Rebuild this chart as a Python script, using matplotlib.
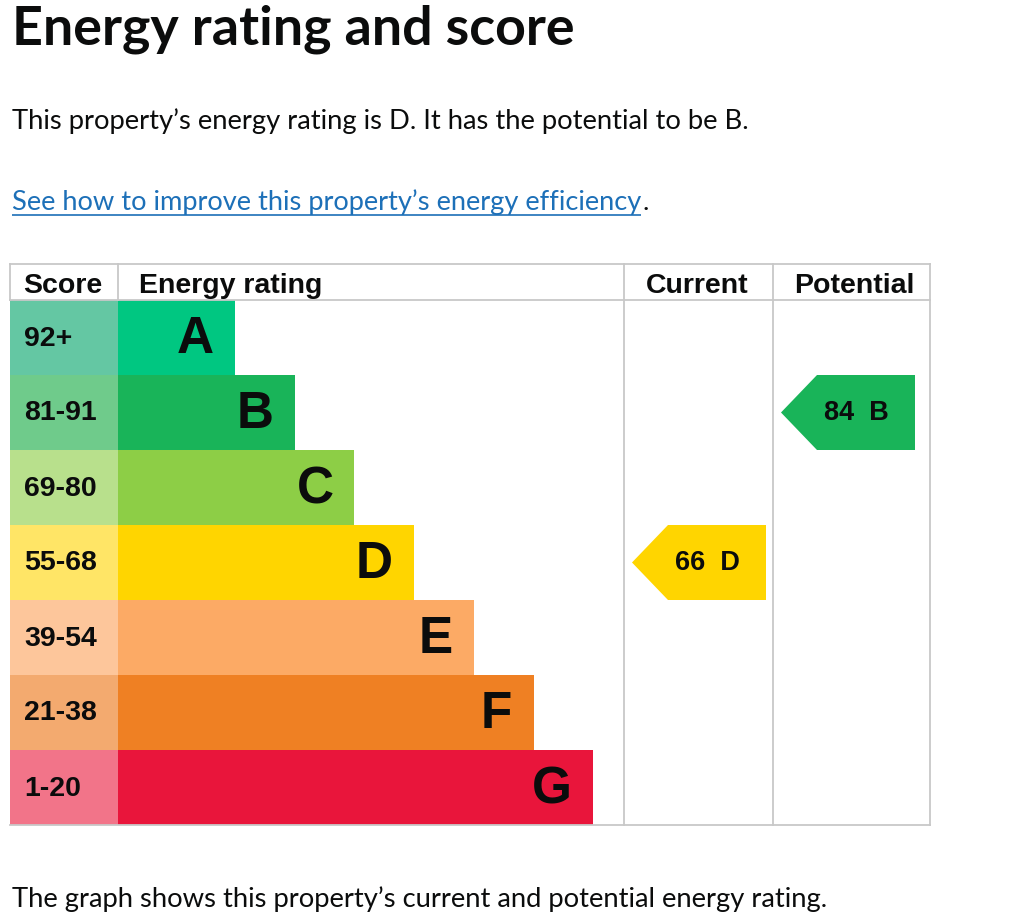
import matplotlib
matplotlib.use("Agg")
import matplotlib.pyplot as plt
from matplotlib.patches import Rectangle, Polygon

# ---- data ----
bands = ["A", "B", "C", "D", "E", "F", "G"]
score_ranges = ["92+", "81-91", "69-80", "55-68", "39-54", "21-38", "1-20"]
band_colors = ["#00c781", "#19b459", "#8dce46", "#ffd500", "#fcaa65", "#ef8023", "#e9153b"]
score_colors = ["#64c7a3", "#6fcb8b", "#b8e08c", "#ffe566", "#fdc69b", "#f3aa6f", "#f27489"]
headers = ["Score", "Energy rating", "Current", "Potential"]
current_score, current_band = 66, "D"
potential_score, potential_band = 84, "B"

title = "Energy rating and score"
summary = "This property\u2019s energy rating is D. It has the potential to be B."
link_text = "See how to improve this property\u2019s energy efficiency"
footer = "The graph shows this property\u2019s current and potential energy rating."

# ---- layout (pixels) ----
W, H = 1024, 924
fig = plt.figure(figsize=(W / 100, H / 100), dpi=100)
ax = fig.add_axes([0, 0, 1, 1])
ax.set_xlim(0, W)
ax.set_ylim(H, 0)
ax.axis("off")
fig.canvas.draw()
renderer = fig.canvas.get_renderer()


def fit_text(x, y, s, target_w, **kw):
    t = ax.text(x, y, s, fontsize=10, **kw)
    w = t.get_window_extent(renderer=renderer).width
    t.set_fontsize(10 * target_w / w)
    return t


body_font = "Lato"
tbl_font = "Liberation Sans"

fit_text(12, 45, title, 565, family=body_font, fontweight="bold", va="baseline", color="#0b0c0c")
fit_text(12, 129, summary, 737, family=body_font, va="baseline", color="#0b0c0c")
lt = fit_text(12, 210, link_text, 633, family=body_font, va="baseline", color="#1d70b8")
fig.canvas.draw()
ext = lt.get_window_extent(renderer=renderer)
ax.plot([12, 12 + ext.width], [215, 215], color="#1d70b8", lw=1.2, solid_capstyle="butt")
ax.text(12 + ext.width + 1, 210, ".", fontsize=lt.get_fontsize(), family=body_font,
        va="baseline", color="#0b0c0c")
fit_text(12, 907, footer, 820, family=body_font, va="baseline", color="#0b0c0c")

# table geometry
left, right = 10, 930
col_x = [10, 118, 624, 773, 930]
head_top, head_bot = 264, 300
row_h = 75
bar_base, bar_step = 117, 59.7
grid_c = "#c8c8c8"

for i, (b, sr) in enumerate(zip(bands, score_ranges)):
    y0 = head_bot + i * row_h
    ax.add_patch(Rectangle((col_x[0], y0), col_x[1] - col_x[0], row_h,
                           facecolor=score_colors[i], edgecolor="none"))
    bw = bar_base + i * bar_step
    ax.add_patch(Rectangle((col_x[1], y0), bw, row_h,
                           facecolor=band_colors[i], edgecolor="none"))
    ax.text(24, y0 + row_h / 2 + 1, sr, family=tbl_font, fontweight="bold",
            fontsize=20.5, va="center", ha="left", color="#0b0c0c")
    ax.text(col_x[1] + bw - 21, y0 + row_h / 2 + 2, b, family=tbl_font, fontweight="bold",
            fontsize=37, va="center", ha="right", color="#0b0c0c")

# grid lines
for yy in [head_top, head_bot, head_bot + 7 * row_h]:
    ax.plot([left, right], [yy, yy], color=grid_c, lw=1.3, zorder=3)
ax.plot([left, left], [head_top, head_bot], color=grid_c, lw=1.3, zorder=3)
ax.plot([col_x[1], col_x[1]], [head_top, head_bot], color=grid_c, lw=1.3, zorder=3)
for cx in col_x[2:]:
    ax.plot([cx, cx], [head_top, head_bot + 7 * row_h], color=grid_c, lw=1.3, zorder=3)

# headers
head_x = [23, 139, 646, 794]
for hx, h in zip(head_x, headers):
    ax.text(hx, head_top + 29, h, family=tbl_font, fontweight="bold", fontsize=20.5,
            va="baseline", ha="left", color="#0b0c0c")


def arrow(col, score, band):
    i = bands.index(band)
    y0 = head_bot + i * row_h
    x_tip = col_x[col] + 8
    x_body = x_tip + 36
    x_end = x_tip + 134
    pts = [(x_tip, y0 + row_h / 2), (x_body, y0), (x_end, y0), (x_end, y0 + row_h),
           (x_body, y0 + row_h)]
    ax.add_patch(Polygon(pts, closed=True, facecolor=band_colors[i], edgecolor="none", zorder=4))
    ax.text(x_tip + 43, y0 + row_h / 2 + 1, f"{score}  {band}", family=tbl_font,
            fontweight="bold", fontsize=19.5, va="center", ha="left", color="#0b0c0c", zorder=5)


arrow(2, current_score, current_band)
arrow(3, potential_score, potential_band)

fig.savefig("out.png", dpi=100, facecolor="white")
